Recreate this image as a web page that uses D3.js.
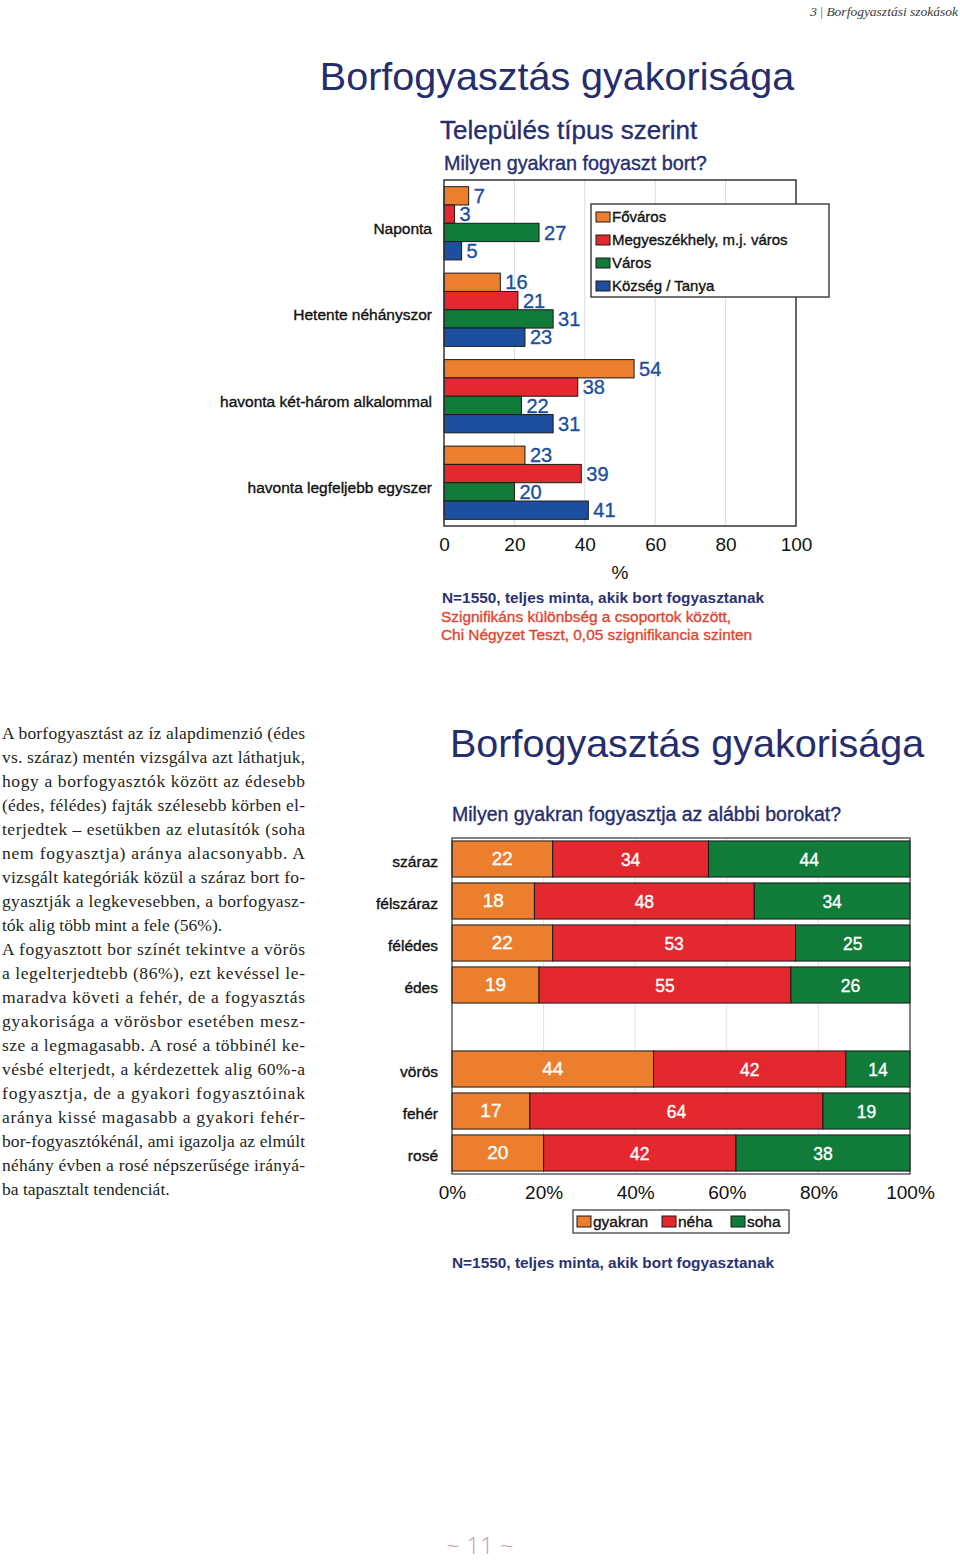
<!DOCTYPE html>
<html>
<head>
<meta charset="utf-8">
<script src="https://cdn.jsdelivr.net/npm/d3@7"></script>
<style>
  body { margin: 0; background: #fff; }
  svg text { font-family: 'Liberation Sans', Arial, sans-serif; }
  svg text.heavy { stroke: currentColor; stroke-width: 0.35px; }
</style>
</head>
<body>
<div id="page"></div>
<script>
'use strict';

// top chart: frequency by settlement type
var freqCategories = ['Naponta', 'Hetente néhányszor', 'havonta két-három alkalommal', 'havonta legfeljebb egyszer'];
var settlementTypes = ['Főváros', 'Megyeszékhely, m.j. város', 'Város', 'Község / Tanya'];
var fovaros = [7, 16, 54, 23];
var megyeszekhely = [3, 21, 38, 39];
var varos = [27, 31, 22, 20];
var kozseg = [5, 23, 31, 41];
var topTicks = [0, 20, 40, 60, 80, 100];

// bottom chart: frequency by wine kind
var wineKinds = ['száraz', 'félszáraz', 'félédes', 'édes', 'vörös', 'fehér', 'rosé'];
var answerTypes = ['gyakran', 'néha', 'soha'];
var gyakran = [22, 18, 22, 19, 44, 17, 20];
var neha = [34, 48, 53, 55, 42, 64, 42];
var soha = [44, 34, 25, 26, 14, 19, 38];
var bottomTicks = [0, 0.2, 0.4, 0.6, 0.8, 1];

var bodyLines = [
  'A borfogyasztást az íz alapdimenzió (édes',
  'vs. száraz) mentén vizsgálva azt láthatjuk,',
  'hogy a borfogyasztók között az édesebb',
  '(édes, félédes) fajták szélesebb körben el-',
  'terjedtek – esetükben az elutasítók (soha',
  'nem fogyasztja) aránya alacsonyabb. A',
  'vizsgált kategóriák közül a száraz bort fo-',
  'gyasztják a legkevesebben, a borfogyasz-',
  'tók alig több mint a fele (56%).',
  'A fogyasztott bor színét tekintve a vörös',
  'a legelterjedtebb (86%), ezt kevéssel le-',
  'maradva követi a fehér, de a fogyasztás',
  'gyakorisága a vörösbor esetében mesz-',
  'sze a legmagasabb. A rosé a többinél ke-',
  'vésbé elterjedt, a kérdezettek alig 60%-a',
  'fogyasztja, de a gyakori fogyasztóinak',
  'aránya kissé magasabb a gyakori fehér-',
  'bor-fogyasztókénál, ami igazolja az elmúlt',
  'néhány évben a rosé népszerűsége irányá-',
  'ba tapasztalt tendenciát.'
];
var lastLines = [8, 19];

var colors = ['#ec7f2d', '#e3292f', '#117b39', '#1d4f9e'];
var navy = '#262d6d';

var svg, x1, y1, y1inner, series1, chart1, legend1, x2, y2, series2, chart2, stack, rows, legend2;

svg = d3.select('#page')
  .append('svg')
  .attr('width', 960)
  .attr('height', 1560);

// running header
var header = svg.append('text')
  .attr('x', 958)
  .attr('y', 16)
  .attr('text-anchor', 'end')
  .style('font-family', "'Liberation Serif', serif")
  .style('font-style', 'italic')
  .style('font-size', '13.5px')
  .attr('fill', '#3a3a3a');
header.append('tspan').text('3 ');
header.append('tspan').attr('fill', '#9b4d64').style('font-style', 'normal').text('|');
header.append('tspan').text(' Borfogyasztási szokások');

// ---------- top chart ----------
svg.append('text')
  .attr('x', 557).attr('y', 90)
  .attr('text-anchor', 'middle')
  .style('font-size', '39.5px')
  .style('color', navy)
  .attr('fill', navy)
  .text('Borfogyasztás gyakorisága');
svg.append('text')
  .attr('class', 'heavy')
  .attr('x', 440).attr('y', 139)
  .style('font-size', '26px')
  .style('color', navy)
  .attr('fill', navy)
  .text('Település típus szerint');
svg.append('text')
  .attr('class', 'heavy')
  .attr('x', 444).attr('y', 170)
  .style('font-size', '19.8px')
  .style('color', navy)
  .attr('fill', navy)
  .text('Milyen gyakran fogyaszt bort?');

x1 = d3.scaleLinear().domain([0, 100]).range([444, 796]);
y1 = d3.scaleBand().domain(freqCategories).range([180, 526]).paddingInner(0.153).paddingOuter(0.077);
y1inner = d3.scaleBand().domain(settlementTypes).range([0, y1.bandwidth()]);
series1 = [fovaros, megyeszekhely, varos, kozseg];

chart1 = svg.append('g');

chart1.selectAll('line.grid')
  .data(topTicks.slice(1, -1))
  .enter().append('line')
  .attr('class', 'grid')
  .attr('x1', function(d) { return x1(d); })
  .attr('x2', function(d) { return x1(d); })
  .attr('y1', 180).attr('y2', 526)
  .attr('stroke', '#dcdcdc')
  .attr('stroke-width', 1);

freqCategories.forEach(function(cat, i) {
  var g = chart1.append('g').attr('transform', 'translate(0,' + y1(cat) + ')');
  settlementTypes.forEach(function(s, j) {
    var v = series1[j][i];
    g.append('rect')
      .attr('x', x1(0))
      .attr('y', y1inner(s))
      .attr('width', x1(v) - x1(0))
      .attr('height', y1inner.bandwidth())
      .attr('fill', colors[j])
      .attr('stroke', '#1a1a1a')
      .attr('stroke-width', 1);
    g.append('text')
      .attr('class', 'heavy')
      .attr('x', x1(v) + 5)
      .attr('y', y1inner(s) + y1inner.bandwidth() / 2)
      .attr('dy', '0.36em')
      .style('font-size', '20px')
      .style('color', '#1d4f9e')
      .attr('fill', '#1d4f9e')
      .text(v);
  });
  chart1.append('text')
    .attr('class', 'heavy')
    .attr('x', 432)
    .attr('y', y1(cat) + y1.bandwidth() / 2 + 5)
    .attr('dy', '0.35em')
    .attr('text-anchor', 'end')
    .style('font-size', '15.5px')
    .style('color', '#111')
    .attr('fill', '#111')
    .text(cat);
});

chart1.append('rect')
  .attr('x', 444).attr('y', 180)
  .attr('width', 352).attr('height', 346)
  .attr('fill', 'none')
  .attr('stroke', '#333')
  .attr('stroke-width', 1.5);

chart1.append('g')
  .attr('transform', 'translate(0,526)')
  .call(d3.axisBottom(x1).tickValues(topTicks).tickSize(0).tickPadding(12))
  .call(function(g) { g.select('.domain').remove(); })
  .selectAll('text')
  .style('font-size', '19px')
  .style('font-family', "'Liberation Sans', Arial, sans-serif")
  .attr('fill', '#111');

chart1.append('text')
  .attr('x', 620).attr('y', 579)
  .attr('text-anchor', 'middle')
  .style('font-size', '19px')
  .attr('fill', '#111')
  .text('%');

// legend
legend1 = svg.append('g').attr('transform', 'translate(591,204)');
legend1.append('rect')
  .attr('width', 238).attr('height', 93)
  .attr('fill', '#fff')
  .attr('stroke', '#444')
  .attr('stroke-width', 1.5);
settlementTypes.forEach(function(s, j) {
  legend1.append('rect')
    .attr('x', 5).attr('y', 8 + j * 23)
    .attr('width', 14).attr('height', 10)
    .attr('fill', colors[j])
    .attr('stroke', '#1a1a1a');
  legend1.append('text')
    .attr('class', 'heavy')
    .attr('x', 21).attr('y', 13 + j * 23)
    .attr('dy', '0.35em')
    .style('font-size', '15px')
    .style('color', '#111')
    .attr('fill', '#111')
    .text(s);
});

svg.append('text')
  .attr('x', 442).attr('y', 603)
  .style('font-size', '15.4px')
  .style('font-weight', 'bold')
  .attr('fill', '#2b3173')
  .text('N=1550, teljes minta, akik bort fogyasztanak');
svg.append('text')
  .attr('class', 'heavy')
  .attr('x', 441).attr('y', 622)
  .style('font-size', '15.4px')
  .style('color', '#e2452f')
  .attr('fill', '#e2452f')
  .text('Szignifikáns különbség a csoportok között,');
svg.append('text')
  .attr('class', 'heavy')
  .attr('x', 441).attr('y', 640)
  .style('font-size', '15.4px')
  .style('color', '#e2452f')
  .attr('fill', '#e2452f')
  .text('Chi Négyzet Teszt, 0,05 szignifikancia szinten');

// ---------- body text ----------
var body = svg.append('g');
bodyLines.forEach(function(line, i) {
  var t = body.append('text')
    .attr('x', 2)
    .attr('y', 739 + i * 24)
    .style('font-family', "'Liberation Serif', 'DejaVu Serif', serif")
    .style('font-size', '17.5px')
    .attr('fill', '#231f20')
    .text(line);
  if (lastLines.indexOf(i) < 0) {
    t.attr('textLength', 303).attr('lengthAdjust', 'spacing');
  }
});

// ---------- bottom chart ----------
svg.append('text')
  .attr('x', 450).attr('y', 757)
  .style('font-size', '39.5px')
  .attr('fill', navy)
  .text('Borfogyasztás gyakorisága');
svg.append('text')
  .attr('class', 'heavy')
  .attr('x', 452).attr('y', 821)
  .style('font-size', '19.5px')
  .style('color', navy)
  .attr('fill', navy)
  .text('Milyen gyakran fogyasztja az alábbi borokat?');

x2 = d3.scaleLinear().domain([0, 1]).range([452, 910]);
y2 = d3.scaleBand()
  .domain(wineKinds.slice(0, 4).concat(['-']).concat(wineKinds.slice(4)))
  .range([838, 1174])
  .paddingInner(0.14)
  .paddingOuter(0.07);

series2 = wineKinds.map(function(k, i) {
  return { kind: k, gyakran: gyakran[i], 'néha': neha[i], soha: soha[i] };
});
stack = d3.stack().keys(answerTypes)(series2);

chart2 = svg.append('g');

chart2.selectAll('line.grid')
  .data(bottomTicks.slice(1, -1))
  .enter().append('line')
  .attr('class', 'grid')
  .attr('x1', function(d) { return x2(d); })
  .attr('x2', function(d) { return x2(d); })
  .attr('y1', 838).attr('y2', 1174)
  .attr('stroke', '#e2e2e2');

stack.forEach(function(layer, j) {
  rows = chart2.append('g');
  rows.selectAll('rect')
    .data(layer)
    .enter().append('rect')
    .attr('x', function(d) { return x2(d[0] / 100); })
    .attr('y', function(d) { return y2(d.data.kind); })
    .attr('width', function(d) { return x2(d[1] / 100) - x2(d[0] / 100); })
    .attr('height', y2.bandwidth())
    .attr('fill', colors[j])
    .attr('stroke', '#1a1a1a')
    .attr('stroke-width', 1);
  rows.selectAll('text')
    .data(layer)
    .enter().append('text')
    .attr('class', 'heavy')
    .attr('x', function(d) { return (x2(d[0] / 100) + x2(d[1] / 100)) / 2; })
    .attr('y', function(d) { return y2(d.data.kind) + y2.bandwidth() / 2 + (j === 0 ? -1 : 1); })
    .attr('dy', '0.36em')
    .attr('text-anchor', 'middle')
    .style('font-size', j === 0 ? '19px' : '17.5px')
    .style('color', '#fff')
    .attr('fill', '#fff')
    .text(function(d) { return d[1] - d[0]; });
});

wineKinds.forEach(function(k) {
  chart2.append('text')
    .attr('class', 'heavy')
    .attr('x', 438)
    .attr('y', y2(k) + y2.bandwidth() / 2 + 3)
    .attr('dy', '0.35em')
    .attr('text-anchor', 'end')
    .style('font-size', '15.5px')
    .style('color', '#111')
    .attr('fill', '#111')
    .text(k);
});

chart2.append('rect')
  .attr('x', 452).attr('y', 838)
  .attr('width', 458).attr('height', 336)
  .attr('fill', 'none')
  .attr('stroke', '#333')
  .attr('stroke-width', 1.2);

chart2.append('g')
  .attr('transform', 'translate(0,1174)')
  .call(d3.axisBottom(x2).tickValues(bottomTicks).tickFormat(d3.format('.0%')).tickSize(0).tickPadding(12))
  .call(function(g) { g.select('.domain').remove(); })
  .selectAll('text')
  .style('font-size', '19px')
  .style('font-family', "'Liberation Sans', Arial, sans-serif")
  .attr('fill', '#111');

legend2 = svg.append('g').attr('transform', 'translate(573,1210)');
legend2.append('rect')
  .attr('width', 216).attr('height', 23)
  .attr('fill', '#fff')
  .attr('stroke', '#333')
  .attr('stroke-width', 1.2);
[4, 89, 158].forEach(function(px, j) {
  legend2.append('rect')
    .attr('x', px).attr('y', 6)
    .attr('width', 14).attr('height', 11)
    .attr('fill', colors[j])
    .attr('stroke', '#1a1a1a');
  legend2.append('text')
    .attr('class', 'heavy')
    .attr('x', px + 16).attr('y', 12)
    .attr('dy', '0.35em')
    .style('font-size', '15.5px')
    .style('color', '#111')
    .attr('fill', '#111')
    .text(answerTypes[j]);
});

svg.append('text')
  .attr('x', 452).attr('y', 1268)
  .style('font-size', '15.4px')
  .style('font-weight', 'bold')
  .attr('fill', '#2b3173')
  .text('N=1550, teljes minta, akik bort fogyasztanak');

// page number
svg.append('text')
  .attr('x', 480).attr('y', 1554)
  .attr('text-anchor', 'middle')
  .style('font-family', "'Open Sans', sans-serif")
  .style('font-weight', 300)
  .style('font-size', '24px')
  .attr('fill', '#c99aae')
  .text('~ 11 ~');
</script>
</body>
</html>
